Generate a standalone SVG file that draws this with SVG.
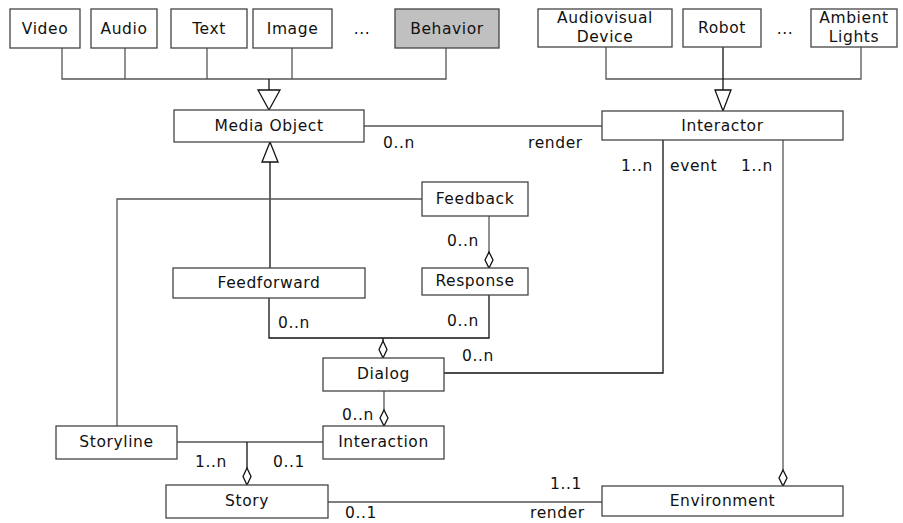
<svg xmlns="http://www.w3.org/2000/svg" width="903" height="523" viewBox="0 0 903 523">
<style>
.box{fill:#fff;stroke:#444;stroke-width:1.3}
.gray{fill:#c0c0c0}
.t{font-family:"DejaVu Sans","Verdana",sans-serif;font-size:15.5px;letter-spacing:0.6px;fill:#111;text-anchor:middle}
.l{font-family:"DejaVu Sans","Verdana",sans-serif;font-size:15.5px;letter-spacing:0.6px;fill:#111}
.c{fill:none;stroke:#555;stroke-width:1.3}
.k{fill:none;stroke:#111;stroke-width:1.3}
.tri{fill:#fff;stroke:#111;stroke-width:1.3}
.dia{fill:#fff;stroke:#111;stroke-width:1.3}
</style>
<rect width="903" height="523" fill="#fff"/>
<g id="connectors">
  <polyline class="c" points="62,48 62,79 446,79 446,48"/>
  <line class="c" x1="125" y1="48" x2="125" y2="79"/>
  <line class="c" x1="207" y1="48" x2="207" y2="79"/>
  <line class="c" x1="292" y1="48" x2="292" y2="79"/>
  <line class="k" x1="269" y1="79" x2="269" y2="90"/>
  <polygon class="tri" points="258,90 280,90 269,110"/>
  <polyline class="c" points="606,47 606,79 861,79 861,47"/>
  <line class="k" x1="723" y1="47" x2="723" y2="90"/>
  <polygon class="tri" points="715,90 731,90 723,111"/>
  <line class="c" x1="364" y1="126" x2="602" y2="126"/>
  <line class="k" x1="270" y1="162" x2="270" y2="268"/>
  <polygon class="tri" points="270,142 262,162 278,162"/>
  <polyline class="c" points="117,426 117,199 422,199"/>
  <line class="c" x1="489" y1="216" x2="489" y2="253"/>
  <polygon class="dia" points="489,252 493,260 489,268 485,260"/>
  <polyline class="k" points="269,298 269,338 489,338 489,295"/>
  <line class="k" x1="383" y1="338" x2="383" y2="341"/>
  <polygon class="dia" points="383,341 387,349.5 383,358 379,349.5"/>
  <polyline class="k" points="663,140 663,373 444,373"/>
  <line class="c" x1="783" y1="140" x2="783" y2="470"/>
  <polygon class="dia" points="783,470 787,478 783,486 779,478"/>
  <line class="c" x1="384" y1="391" x2="384" y2="410"/>
  <polygon class="dia" points="384,410 388,418 384,426 380,418"/>
  <line class="c" x1="177" y1="442" x2="323" y2="442"/>
  <line class="k" x1="247" y1="442" x2="247" y2="468"/>
  <polygon class="dia" points="247,468 251,476.5 247,485 243,476.5"/>
  <line class="c" x1="328" y1="502" x2="602" y2="502"/>
</g>
<g id="video"><rect class="box" x="10" y="9" width="70" height="39"/><text class="t" x="45" y="34">Video</text></g>
<g id="audio"><rect class="box" x="91" y="9" width="66" height="39"/><text class="t" x="124" y="34">Audio</text></g>
<g id="text"><rect class="box" x="171" y="9" width="76" height="39"/><text class="t" x="209" y="34">Text</text></g>
<g id="image"><rect class="box" x="253" y="9" width="79" height="39"/><text class="t" x="292.5" y="34">Image</text></g>
<text class="t" x="362" y="34">...</text>
<g id="behavior"><rect class="box gray" x="395" y="9" width="104" height="39"/><text class="t" x="447" y="34">Behavior</text></g>
<g id="audiovisual"><rect class="box" x="538" y="9" width="134" height="38"/><text class="t" x="605" y="23">Audiovisual</text><text class="t" x="605" y="42">Device</text></g>
<g id="robot"><rect class="box" x="683" y="9" width="78" height="38"/><text class="t" x="722" y="33">Robot</text></g>
<text class="t" x="785" y="34">...</text>
<g id="ambient"><rect class="box" x="811" y="9" width="86" height="38"/><text class="t" x="854" y="23">Ambient</text><text class="t" x="854" y="42">Lights</text></g>
<g id="mediaobject"><rect class="box" x="174" y="110" width="190" height="32"/><text class="t" x="269" y="131">Media Object</text></g>
<g id="interactor"><rect class="box" x="602" y="111" width="241" height="29"/><text class="t" x="722.5" y="131">Interactor</text></g>
<g id="feedback"><rect class="box" x="422" y="182" width="106" height="34"/><text class="t" x="475" y="204">Feedback</text></g>
<g id="feedforward"><rect class="box" x="173" y="268" width="192" height="30"/><text class="t" x="269" y="288">Feedforward</text></g>
<g id="response"><rect class="box" x="422" y="268" width="106" height="27"/><text class="t" x="475" y="286">Response</text></g>
<g id="dialog"><rect class="box" x="323" y="358" width="121" height="33"/><text class="t" x="383.5" y="379">Dialog</text></g>
<g id="storyline"><rect class="box" x="56" y="426" width="121" height="33"/><text class="t" x="116.5" y="447">Storyline</text></g>
<g id="interaction"><rect class="box" x="323" y="426" width="121" height="33"/><text class="t" x="383.5" y="447">Interaction</text></g>
<g id="story"><rect class="box" x="166" y="485" width="162" height="33"/><text class="t" x="247" y="506">Story</text></g>
<g id="environment"><rect class="box" x="602" y="486" width="241" height="30"/><text class="t" x="722.5" y="506">Environment</text></g>
<g id="labels">
  <text class="l" x="383" y="148">0..n</text>
  <text class="l" x="528" y="148">render</text>
  <text class="l" x="621" y="171">1..n</text>
  <text class="l" x="670" y="171">event</text>
  <text class="l" x="741" y="171">1..n</text>
  <text class="l" x="447" y="246">0..n</text>
  <text class="l" x="278" y="328">0..n</text>
  <text class="l" x="447" y="326">0..n</text>
  <text class="l" x="462" y="361">0..n</text>
  <text class="l" x="342" y="420">0..n</text>
  <text class="l" x="195" y="467">1..n</text>
  <text class="l" x="273" y="467">0..1</text>
  <text class="l" x="550" y="489">1..1</text>
  <text class="l" x="345" y="518">0..1</text>
  <text class="l" x="530" y="518">render</text>
</g>
</svg>
